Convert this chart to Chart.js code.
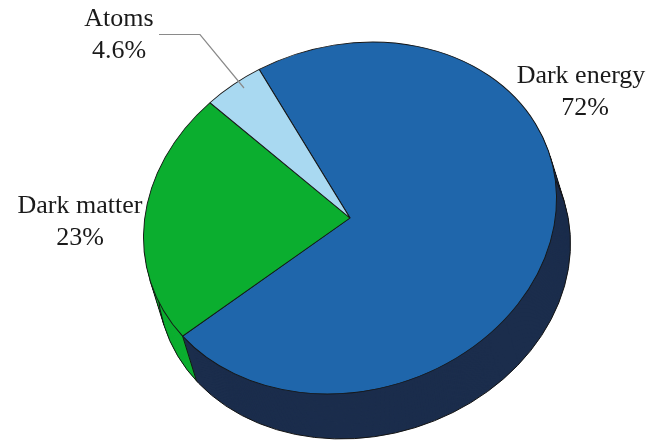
<!DOCTYPE html>
<html>
<head>
<meta charset="utf-8">
<script src="https://cdn.jsdelivr.net/npm/chart.js@4/dist/chart.umd.min.js"></script>
<style>
  html, body { margin: 0; padding: 0; background: #ffffff; }
  #wrap { width: 660px; height: 444px; }
</style>
</head>
<body>
<div id="wrap"><canvas id="pie" width="660" height="444"></canvas></div>
<script>
// Composition of the universe
const labels = ['Dark energy', 'Dark matter', 'Atoms'];
const shares = [72, 23, 4.6];

const topColors = ['#1f66ab', '#0bae2f', '#a9d9f1'];
const sideColors = ['#1b2d4c', '#0bae2f', '#8fc3dd'];

// Tilted disc: screen centre, semi-axes, rotation, and extrusion offset
const TILT = {
  cx: 350, cy: 218,
  a: 209.5, b: 172.4,
  angle: -17.2 * Math.PI / 180,
  depthX: 14, depthY: 45
};

function tiltMatrix() {
  const c = Math.cos(TILT.angle), s = Math.sin(TILT.angle);
  return { m11: TILT.a * c, m21: TILT.a * s, m12: -TILT.b * s, m22: TILT.b * c };
}

function applyTilt(ctx, arc, ox, oy) {
  const m = tiltMatrix();
  const R = arc.outerRadius;
  ctx.translate(TILT.cx + ox, TILT.cy + oy);
  ctx.transform(m.m11 / R, m.m21 / R, m.m12 / R, m.m22 / R, 0, 0);
  ctx.translate(-arc.x, -arc.y);
}

function rimPoint(t) {
  const m = tiltMatrix();
  const c = Math.cos(t), s = Math.sin(t);
  return { x: TILT.cx + m.m11 * c + m.m12 * s, y: TILT.cy + m.m21 * c + m.m22 * s };
}

const tiltedPie = {
  id: 'tiltedPie',
  beforeDatasetsDraw(chart) {
    const ctx = chart.ctx;
    const arcs = chart.getDatasetMeta(0).data;
    const ref = arcs[0];
    const steps = 48;

    // extruded side, stacked from the far layer to the near one
    for (let k = steps; k >= 1; k--) {
      const f = k / steps;
      ctx.save();
      applyTilt(ctx, ref, TILT.depthX * f, TILT.depthY * f);
      arcs.forEach((el, i) => {
        ctx.beginPath();
        ctx.moveTo(el.x, el.y);
        ctx.arc(el.x, el.y, el.outerRadius, el.startAngle, el.endAngle);
        ctx.closePath();
        ctx.fillStyle = sideColors[i];
        ctx.fill();
      });
      ctx.restore();
    }

    // outline of the base rim
    ctx.save();
    applyTilt(ctx, ref, TILT.depthX, TILT.depthY);
    ctx.beginPath();
    ctx.arc(ref.x, ref.y, ref.outerRadius, 0, Math.PI * 2);
    ctx.restore();
    ctx.strokeStyle = '#141414';
    ctx.lineWidth = 1;
    ctx.stroke();

    // silhouette edges of the side
    const m = tiltMatrix();
    const nx = -TILT.depthY, ny = TILT.depthX;
    const wx = nx * m.m11 + ny * m.m21, wy = nx * m.m12 + ny * m.m22;
    const t0 = Math.atan2(wy, wx);
    ctx.beginPath();
    [t0, t0 + Math.PI].forEach(t => {
      const p = rimPoint(t);
      ctx.moveTo(p.x, p.y);
      ctx.lineTo(p.x + TILT.depthX, p.y + TILT.depthY);
    });
    // seam where the dark energy and dark matter sides meet
    const seam = arcs[0].endAngle;
    const ps = rimPoint(seam);
    ctx.moveTo(ps.x, ps.y);
    ctx.lineTo(ps.x + TILT.depthX, ps.y + TILT.depthY);
    ctx.stroke();

    // top face drawn by the controller under the tilt transform
    ctx.save();
    applyTilt(ctx, ref, 0, 0);
  },
  afterDatasetsDraw(chart) {
    chart.ctx.restore();
  }
};

const sliceLabels = {
  id: 'sliceLabels',
  afterDraw(chart) {
    const ctx = chart.ctx;
    const spots = [
      { x: 581, y: 83 },
      { x: 80, y: 213 },
      { x: 119, y: 26 }
    ];
    ctx.save();
    // leader for the small slice
    ctx.beginPath();
    ctx.moveTo(159, 34.5);
    ctx.lineTo(200, 34.5);
    ctx.lineTo(244, 88);
    ctx.strokeStyle = '#8a8a8a';
    ctx.lineWidth = 1.2;
    ctx.stroke();

    ctx.fillStyle = '#1a1a1a';
    ctx.font = '26px "Liberation Serif", "DejaVu Serif", serif';
    ctx.textAlign = 'center';
    ctx.textBaseline = 'alphabetic';
    labels.forEach((name, i) => {
      const s = spots[i];
      ctx.fillText(name, s.x, s.y);
      ctx.fillText(shares[i] + '%', s.x + (i === 0 ? 4 : 0), s.y + 32);
    });
    ctx.restore();
  }
};

new Chart(document.getElementById('pie'), {
  type: 'pie',
  data: {
    labels: labels,
    datasets: [{
      data: shares,
      backgroundColor: topColors,
      borderColor: '#161616',
      borderWidth: 1,
      clip: false
    }]
  },
  options: {
    responsive: false,
    animation: false,
    rotation: -11.8,
    layout: { padding: 0 },
    plugins: {
      legend: { display: false },
      tooltip: { enabled: false }
    }
  },
  plugins: [tiltedPie, sliceLabels]
});
</script>
</body>
</html>
